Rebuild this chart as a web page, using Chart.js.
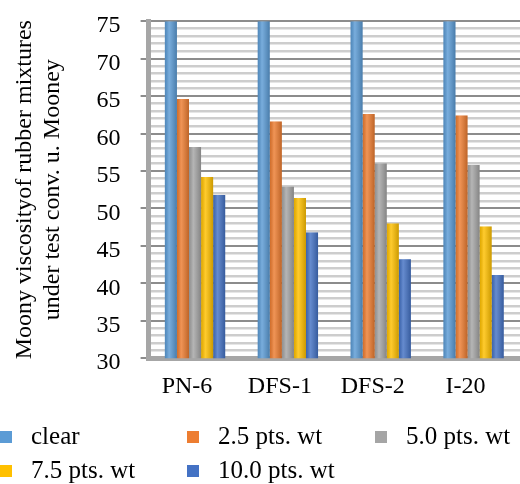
<!DOCTYPE html>
<html>
<head>
<meta charset="utf-8">
<script src="https://cdn.jsdelivr.net/npm/chart.js@4.4.1/dist/chart.umd.min.js"></script>
<style>
  html, body { margin: 0; padding: 0; background: #fff; }
  #wrap { width: 520px; height: 484px; }
</style>
</head>
<body>
<div id="wrap"><canvas id="viscosityChart"></canvas></div>
<script>
// values
const categories = ['PN-6', 'DFS-1', 'DFS-2', 'I-20'];
const seriesNames = ['clear', '2.5 pts. wt', '5.0 pts. wt', '7.5 pts. wt', '10.0 pts. wt'];
const clearValues = [75, 75, 75, 75];
const pts25Values = [64.6, 61.6, 62.6, 62.4];
const pts50Values = [58.2, 52.9, 56.0, 55.8];
const pts75Values = [54.2, 51.4, 48.0, 47.6];
const pts100Values = [51.8, 46.8, 43.2, 41.1];
const yTickLabels = [30, 35, 40, 45, 50, 55, 60, 65, 70, 75];

const seriesColors = ['#5b9bd5', '#ed7d31', '#a5a5a5', '#ffc000', '#4472c4'];
const serif = '"Liberation Serif", "Times New Roman", serif';

// soft cylinder shading on top of each bar
const barShade = {
    id: 'barShade',
    afterDatasetsDraw(chart) {
        const ctx = chart.ctx;
        const bottom = chart.chartArea.bottom;
        ctx.save();
        chart.data.datasets.forEach((ds, i) => {
            chart.getDatasetMeta(i).data.forEach(bar => {
                const left = bar.x - bar.width / 2;
                const g = ctx.createLinearGradient(left, 0, left + bar.width, 0);
                g.addColorStop(0, 'rgba(0,0,0,0.12)');
                g.addColorStop(0.35, 'rgba(255,255,255,0.18)');
                g.addColorStop(1, 'rgba(0,0,0,0.2)');
                ctx.fillStyle = g;
                ctx.fillRect(left, bar.y, bar.width, Math.min(bar.base, bottom) - bar.y);
            });
        });
        ctx.restore();
    }
};

// legend laid out in three columns like the original
const gridLegend = {
    id: 'gridLegend',
    afterDraw(chart) {
        const ctx = chart.ctx;
        const cols = [0, 187, 375];
        const rows = [437, 471];
        ctx.save();
        ctx.font = '25px ' + serif;
        ctx.textBaseline = 'middle';
        chart.data.datasets.forEach((ds, i) => {
            const x = cols[i % 3];
            const y = rows[Math.floor(i / 3)];
            ctx.fillStyle = ds.backgroundColor;
            ctx.fillRect(x, y - 6, 12, 12);
            ctx.fillStyle = '#000';
            ctx.fillText(ds.label, x + 31, y);
        });
        ctx.restore();
    }
};

const allValues = [clearValues, pts25Values, pts50Values, pts75Values, pts100Values];

const data = {
    labels: categories,
    datasets: seriesNames.map((name, i) => ({
        label: name,
        data: allValues[i],
        backgroundColor: seriesColors[i],
        categoryPercentage: 0.65,
        barPercentage: 1.0
    }))
};

const ctx = document.getElementById('viscosityChart').getContext('2d');

new Chart(ctx, {
    type: 'bar',
    data: data,
    plugins: [barShade, gridLegend],
    options: {
        responsive: true,
        maintainAspectRatio: false,
        animation: false,
        layout: { padding: { top: 6, left: 10, right: 0, bottom: 77 } },
        plugins: {
            legend: { display: false },
            tooltip: { enabled: false }
        },
        scales: {
            x: {
                grid: { display: false },
                border: { color: '#a6a6a6', width: 5 },
                ticks: { font: { family: serif, size: 24 }, color: '#000', padding: 6, labelOffset: -8 }
            },
            y: {
                min: 30,
                max: 75,
                ticks: {
                    stepSize: 1,
                    autoSkip: false,
                    callback: v => yTickLabels.includes(v) ? String(v) : '',
                    // small lineHeight keeps the plot top from being pushed down
                    font: { family: serif, size: 24, lineHeight: 0.1 },
                    color: '#000',
                    padding: 20,
                    labelOffset: 5
                },
                grid: {
                    color: c => yTickLabels.includes(c.tick.value) ? '#8c8c8c' : '#cdcdcd',
                    lineWidth: c => yTickLabels.includes(c.tick.value) ? 2 : 2.5,
                    tickLength: 8,
                    tickColor: c => yTickLabels.includes(c.tick.value) ? '#8c8c8c' : 'rgba(0,0,0,0)'
                },
                border: { color: '#a6a6a6', width: 5 },
                title: {
                    display: true,
                    text: ['Moony viscosityof rubber mixtures', 'under test conv. u. Mooney'],
                    font: { family: serif, size: 24 },
                    color: '#000',
                    padding: { top: 0, bottom: 9 }
                }
            }
        }
    }
});
</script>
</body>
</html>
